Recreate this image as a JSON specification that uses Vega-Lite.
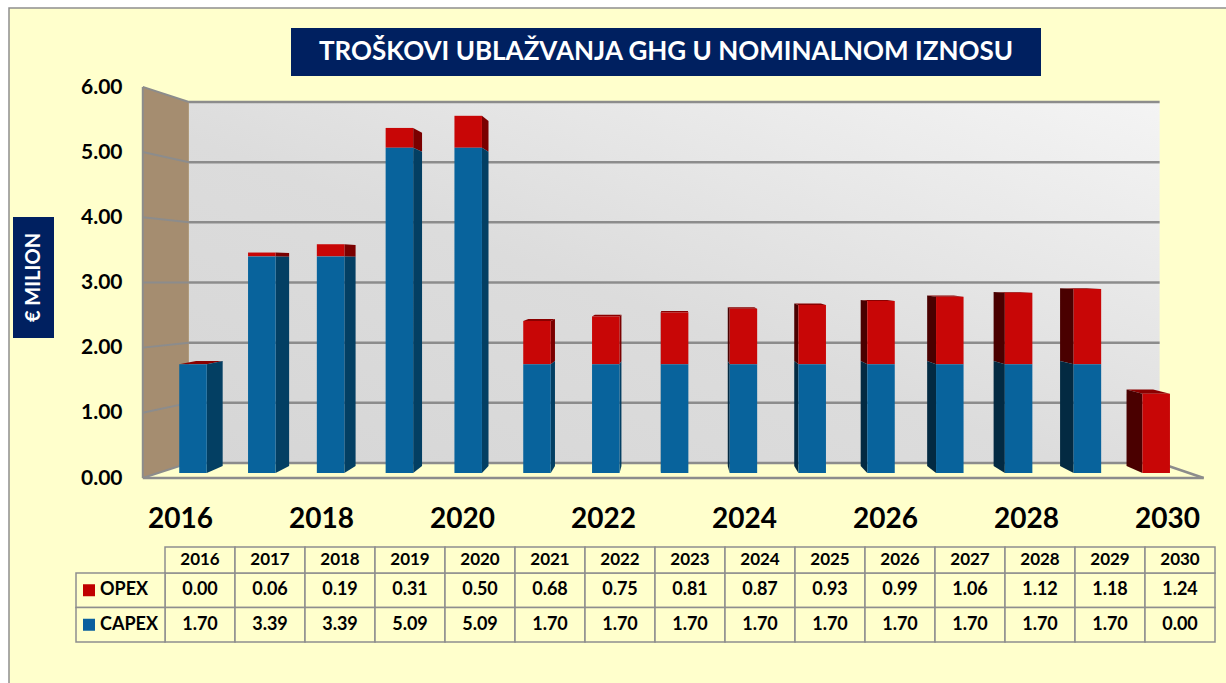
{
"$schema":"https://vega.github.io/schema/vega-lite/v6.json",
"width":1226,"height":683,"padding":0,"autosize":{"type":"none"},"background":"white",
"config":{"view":{"stroke":null},"text":{"font":"Lato","fontWeight":"bold"}},
"datasets":{
"costs":[
{"year":2016,"series":"OPEX","value":0.00},{"year":2017,"series":"OPEX","value":0.06},{"year":2018,"series":"OPEX","value":0.19},{"year":2019,"series":"OPEX","value":0.31},{"year":2020,"series":"OPEX","value":0.50},{"year":2021,"series":"OPEX","value":0.68},{"year":2022,"series":"OPEX","value":0.75},{"year":2023,"series":"OPEX","value":0.81},{"year":2024,"series":"OPEX","value":0.87},{"year":2025,"series":"OPEX","value":0.93},{"year":2026,"series":"OPEX","value":0.99},{"year":2027,"series":"OPEX","value":1.06},{"year":2028,"series":"OPEX","value":1.12},{"year":2029,"series":"OPEX","value":1.18},{"year":2030,"series":"OPEX","value":1.24},
{"year":2016,"series":"CAPEX","value":1.70},{"year":2017,"series":"CAPEX","value":3.39},{"year":2018,"series":"CAPEX","value":3.39},{"year":2019,"series":"CAPEX","value":5.09},{"year":2020,"series":"CAPEX","value":5.09},{"year":2021,"series":"CAPEX","value":1.70},{"year":2022,"series":"CAPEX","value":1.70},{"year":2023,"series":"CAPEX","value":1.70},{"year":2024,"series":"CAPEX","value":1.70},{"year":2025,"series":"CAPEX","value":1.70},{"year":2026,"series":"CAPEX","value":1.70},{"year":2027,"series":"CAPEX","value":1.70},{"year":2028,"series":"CAPEX","value":1.70},{"year":2029,"series":"CAPEX","value":1.70},{"year":2030,"series":"CAPEX","value":0.00}
],
"ticks":[{"tick":0},{"tick":1},{"tick":2},{"tick":3},{"tick":4},{"tick":5},{"tick":6}],
"seriesNames":[{"series":"OPEX"},{"series":"CAPEX"}]
},
"layer":[
{"data":{"values":[{"part":"chart area"}]},
 "mark":{"type":"rect","fill":"#FFFFCC","stroke":"#8E8E8E","strokeWidth":1.5},
 "encoding":{
  "x":{"field":"part","type":"nominal","axis":null,"scale":{"type":"band","range":[9,1240],"paddingInner":0,"paddingOuter":0}},
  "y":{"field":"part","type":"nominal","axis":null,"scale":{"type":"band","range":[8,700],"paddingInner":0,"paddingOuter":0}}
 }},
{"data":{"values":[{"title":"TROŠKOVI UBLAŽVANJA GHG U NOMINALNOM IZNOSU"}]},
 "encoding":{
  "x":{"field":"title","type":"nominal","axis":null,"scale":{"type":"band","range":[291,1041],"paddingInner":0,"paddingOuter":0}},
  "y":{"field":"title","type":"nominal","axis":null,"scale":{"type":"band","range":[28,76],"paddingInner":0,"paddingOuter":0}}
 },
 "layer":[
  {"mark":{"type":"rect","fill":"#002060"}},
  {"mark":{"type":"text","fill":"white","fontSize":26,"font":"Lato","fontWeight":"bold","baseline":"middle"},"encoding":{"text":{"field":"title"}}}
 ]},
{"data":{"values":[{"title":"€ MILION"}]},
 "encoding":{
  "x":{"field":"title","type":"nominal","axis":null,"scale":{"type":"band","range":[13,54],"paddingInner":0,"paddingOuter":0}},
  "y":{"field":"title","type":"nominal","axis":null,"scale":{"type":"band","range":[217,338],"paddingInner":0,"paddingOuter":0}}
 },
 "layer":[
  {"mark":{"type":"rect","fill":"#002060"}},
  {"mark":{"type":"text","fill":"white","fontSize":20,"font":"Lato","fontWeight":"bold","angle":270,"baseline":"middle"},"encoding":{"text":{"field":"title"}}}
 ]},
{"layer":[
  {"data":{"values":[{"part":"back wall"}]},
   "mark":{"type":"rect","color":{"gradient":"linear","x1":0,"y1":1,"x2":1,"y2":0,"stops":[{"offset":0,"color":"#D6D6D6"},{"offset":0.45,"color":"#DCDCDC"},{"offset":1,"color":"#F4F4F4"}]}},
   "encoding":{
    "x":{"datum":2015.94,"type":"quantitative","axis":null,"scale":{"domain":[2016,2030],"range":[193,1156.2],"nice":false,"zero":false}},"x2":{"datum":2030.05},
    "y":{"datum":0.156,"type":"quantitative","axis":null,"scale":{"domain":[0,6],"range":[473,89.6],"nice":false,"zero":false}},"y2":{"datum":5.806}
   }},
  {"data":{"name":"ticks"},"transform":[{"calculate":"0.156+0.9416*datum.tick","as":"vb"}],
   "mark":{"type":"rule","stroke":"#8C8C8C","strokeWidth":2.5},
   "encoding":{
    "x":{"datum":2015.94,"type":"quantitative","axis":null,"scale":{"domain":[2016,2030],"range":[193,1156.2],"nice":false,"zero":false}},"x2":{"datum":2030.05},
    "y":{"field":"vb","type":"quantitative","axis":null,"scale":{"domain":[0,6],"range":[473,89.6],"nice":false,"zero":false}}
   }},
  {"data":{"values":[{"depth":0},{"depth":1}]},
   "transform":[{"calculate":"2015.27+0.67*datum.depth","as":"wx"},{"calculate":"-0.078+0.234*datum.depth","as":"lo"},{"calculate":"6.042-0.236*datum.depth","as":"hi"}],
   "mark":{"type":"area","color":"#A58D70"},
   "encoding":{
    "x":{"field":"wx","type":"quantitative","axis":null,"scale":{"domain":[2016,2030],"range":[193,1156.2],"nice":false,"zero":false}},
    "y":{"field":"lo","type":"quantitative","axis":null,"stack":null,"scale":{"domain":[0,6],"range":[473,89.6],"nice":false,"zero":false}},"y2":{"field":"hi"}
   }},
  {"data":{"name":"ticks"},"transform":[{"calculate":"0.156+0.9416*datum.tick","as":"vb"},{"calculate":"-0.078+1.02*datum.tick","as":"vf"}],
   "mark":{"type":"rule","stroke":"#8C8C8C","strokeWidth":2},
   "encoding":{
    "x":{"datum":2015.27,"type":"quantitative","axis":null,"scale":{"domain":[2016,2030],"range":[193,1156.2],"nice":false,"zero":false}},"x2":{"datum":2015.94},
    "y":{"field":"vf","type":"quantitative","axis":null,"scale":{"domain":[0,6],"range":[473,89.6],"nice":false,"zero":false}},"y2":{"field":"vb"}
   }},
  {"data":{"values":[{"part":"wall edge"}]},
   "mark":{"type":"rule","stroke":"#8C8C8C","strokeWidth":2},
   "encoding":{
    "x":{"datum":2015.27,"type":"quantitative","axis":null,"scale":{"domain":[2016,2030],"range":[193,1156.2],"nice":false,"zero":false}},
    "y":{"datum":-0.078,"type":"quantitative","axis":null,"scale":{"domain":[0,6],"range":[473,89.6],"nice":false,"zero":false}},"y2":{"datum":6.042}
   }},
  {"data":{"values":[{"part":"floor front"}]},
   "mark":{"type":"rule","stroke":"#8C8C8C","strokeWidth":2.5},
   "encoding":{
    "x":{"datum":2015.27,"type":"quantitative","axis":null,"scale":{"domain":[2016,2030],"range":[193,1156.2],"nice":false,"zero":false}},"x2":{"datum":2030.69},
    "y":{"datum":-0.078,"type":"quantitative","axis":null,"scale":{"domain":[0,6],"range":[473,89.6],"nice":false,"zero":false}}
   }},
  {"data":{"values":[{"part":"floor side"}]},
   "mark":{"type":"rule","stroke":"#8C8C8C","strokeWidth":2.5},
   "encoding":{
    "x":{"datum":2030.05,"type":"quantitative","axis":null,"scale":{"domain":[2016,2030],"range":[193,1156.2],"nice":false,"zero":false}},"x2":{"datum":2030.69},
    "y":{"datum":0.156,"type":"quantitative","axis":null,"scale":{"domain":[0,6],"range":[473,89.6],"nice":false,"zero":false}},"y2":{"datum":-0.078}
   }},
  {"data":{"name":"costs"},
   "transform":[{"calculate":"datum.series==='CAPEX'?0:1","as":"ord"},{"stack":"value","groupby":["year"],"sort":[{"field":"ord","order":"ascending"}],"as":["v0","v1"]}],
   "layer":[
    {"transform":[{"filter":"datum.series==='OPEX' && datum.v1<3.24"},{"calculate":"[0,1]","as":"d"},{"flatten":["d"]},
      {"calculate":"(datum.year-0.2)+(2023-(datum.year-0.2))*0.034*datum.d","as":"xl"},
      {"calculate":"(datum.year+0.2)+(2023-(datum.year+0.2))*0.034*datum.d","as":"xr"},
      {"calculate":"datum.v1+(3.24-datum.v1)*0.034*datum.d","as":"yy"}],
     "mark":{"type":"area","orient":"horizontal","color":"#8A0000"},
     "encoding":{
      "x":{"field":"xl","type":"quantitative","axis":null,"stack":null,"scale":{"domain":[2016,2030],"range":[193,1156.2],"nice":false,"zero":false}},"x2":{"field":"xr"},
      "y":{"field":"yy","type":"quantitative","axis":null,"scale":{"domain":[0,6],"range":[473,89.6],"nice":false,"zero":false}},
      "detail":{"field":"year"}
     }},
    {"transform":[{"calculate":"datum.year<2023?datum.year+0.2:datum.year-0.2","as":"edge"},{"calculate":"[0,1]","as":"d"},{"flatten":["d"]},
      {"calculate":"datum.edge+(2023-datum.edge)*0.034*datum.d","as":"sx"},
      {"calculate":"datum.v0+(3.24-datum.v0)*0.034*datum.d","as":"y0"},
      {"calculate":"datum.v1+(3.24-datum.v1)*0.034*datum.d","as":"y1"},
      {"calculate":"datum.series+(datum.year<2023?' left':' right')","as":"face"}],
     "mark":{"type":"area"},
     "encoding":{
      "x":{"field":"sx","type":"quantitative","axis":null,"scale":{"domain":[2016,2030],"range":[193,1156.2],"nice":false,"zero":false}},
      "y":{"field":"y0","type":"quantitative","axis":null,"stack":null,"scale":{"domain":[0,6],"range":[473,89.6],"nice":false,"zero":false}},"y2":{"field":"y1"},
      "detail":{"field":"year"},
      "color":{"field":"face","type":"nominal","legend":null,"scale":{"domain":["OPEX","CAPEX","OPEX left","CAPEX left","OPEX right","CAPEX right"],"range":["#C80606","#08639C","#7A0000","#033F63","#4A0000","#032A42"]}}
     }},
    {"transform":[{"calculate":"datum.year-0.2","as":"xa"},{"calculate":"datum.year+0.2","as":"xb"}],
     "mark":{"type":"rect"},
     "encoding":{
      "x":{"field":"xa","type":"quantitative","axis":null,"scale":{"domain":[2016,2030],"range":[193,1156.2],"nice":false,"zero":false}},"x2":{"field":"xb"},
      "y":{"field":"v0","type":"quantitative","axis":null,"scale":{"domain":[0,6],"range":[473,89.6],"nice":false,"zero":false}},"y2":{"field":"v1"},
      "color":{"field":"series","type":"nominal","legend":null,"scale":{"domain":["OPEX","CAPEX","OPEX left","CAPEX left","OPEX right","CAPEX right"],"range":["#C80606","#08639C","#7A0000","#033F63","#4A0000","#032A42"]}}
     }}
   ]}
 ]},
{"data":{"name":"ticks"},
 "mark":{"type":"point","opacity":0},
 "encoding":{"y":{"field":"tick","type":"quantitative","scale":{"domain":[0,6],"range":[478,87],"nice":false,"zero":false},
  "axis":{"orient":"left","title":null,"values":[0,1,2,3,4,5,6],"format":".2f","domain":false,"ticks":false,"grid":false,"offset":-122,"labelPadding":0,"labelFont":"Lato","labelFontWeight":"bold","labelFontSize":21,"labelColor":"#000000","labelFlush":false,"labelOverlap":false,"zindex":1}}}},
{"data":{"name":"costs"},
 "mark":{"type":"point","opacity":0},
 "encoding":{"x":{"field":"year","type":"quantitative","scale":{"domain":[2016,2030],"range":[180,1167],"nice":false,"zero":false},
  "axis":{"orient":"bottom","title":null,"values":[2016,2018,2020,2022,2024,2026,2028,2030],"format":"d","domain":false,"ticks":false,"grid":false,"offset":-178,"labelPadding":0,"labelFont":"Lato","labelFontWeight":"bold","labelFontSize":28,"labelColor":"#000000","labelFlush":false,"labelOverlap":false,"zindex":1}}}},
{"data":{"name":"costs"},
 "encoding":{
  "x":{"field":"year","type":"ordinal","axis":null,"scale":{"type":"band","range":[165,1215],"paddingInner":0,"paddingOuter":0}},
  "y":{"field":"series","type":"nominal","axis":null,"scale":{"type":"band","domain":["OPEX","CAPEX"],"range":[573,642],"paddingInner":0,"paddingOuter":0}}
 },
 "layer":[
  {"mark":{"type":"rect","fill":"#FFFFCC","stroke":"#8E8E8E","strokeWidth":1.5}},
  {"mark":{"type":"text","fontSize":18,"font":"Lato","fontWeight":"bold","fill":"#000000","baseline":"middle"},"encoding":{"text":{"field":"value","type":"quantitative","format":".2f"}}}
 ]},
{"data":{"name":"costs"},"transform":[{"filter":"datum.series==='OPEX'"}],
 "encoding":{
  "x":{"field":"year","type":"ordinal","axis":null,"scale":{"type":"band","range":[165,1215],"paddingInner":0,"paddingOuter":0}},
  "y":{"datum":"year","type":"nominal","axis":null,"scale":{"type":"band","domain":["year"],"range":[547,573],"paddingInner":0,"paddingOuter":0}}
 },
 "layer":[
  {"mark":{"type":"rect","fill":"#FFFFCC","stroke":"#8E8E8E","strokeWidth":1.5}},
  {"mark":{"type":"text","fontSize":17,"font":"Lato","fontWeight":"bold","fill":"#000000","baseline":"middle"},"encoding":{"text":{"field":"year","type":"ordinal"}}}
 ]},
{"data":{"name":"seriesNames"},
 "layer":[
  {"mark":{"type":"rect","fill":"#FFFFCC","stroke":"#8E8E8E","strokeWidth":1.5},
   "encoding":{
    "x":{"datum":0,"type":"quantitative","axis":null,"scale":{"domain":[0,1],"range":[76,165],"nice":false,"zero":false}},"x2":{"datum":1},
    "y":{"field":"series","type":"nominal","axis":null,"scale":{"type":"band","domain":["OPEX","CAPEX"],"range":[573,642],"paddingInner":0,"paddingOuter":0}}
   }},
  {"mark":{"type":"point","shape":"square","filled":true,"size":144,"opacity":1},
   "encoding":{
    "x":{"datum":0.146,"type":"quantitative","axis":null,"scale":{"domain":[0,1],"range":[76,165],"nice":false,"zero":false}},
    "y":{"field":"series","type":"nominal","axis":null,"scale":{"type":"band","domain":["OPEX","CAPEX"],"range":[573,642],"paddingInner":0,"paddingOuter":0}},
    "color":{"field":"series","type":"nominal","legend":null,"scale":{"domain":["OPEX","CAPEX"],"range":["#C00000","#0A5F9E"]}}
   }},
  {"mark":{"type":"text","fontSize":18,"font":"Lato","fontWeight":"bold","fill":"#000000","align":"left","baseline":"middle"},
   "encoding":{
    "x":{"datum":0.27,"type":"quantitative","axis":null,"scale":{"domain":[0,1],"range":[76,165],"nice":false,"zero":false}},
    "y":{"field":"series","type":"nominal","axis":null,"scale":{"type":"band","domain":["OPEX","CAPEX"],"range":[573,642],"paddingInner":0,"paddingOuter":0}},
    "text":{"field":"series"}
   }}
 ]}
],
"resolve":{"scale":{"x":"independent","y":"independent","color":"independent"},"axis":{"x":"independent","y":"independent"}}
}
